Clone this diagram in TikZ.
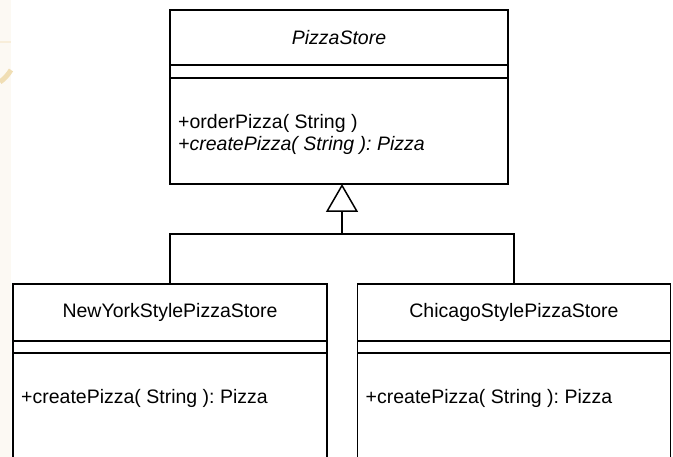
\documentclass[tikz,border=0pt]{standalone}
\usepackage{fontspec}
\setmainfont{Liberation Sans}
\usetikzlibrary{positioning}
\usetikzlibrary{arrows.meta}
\frenchspacing

\definecolor{paper}{RGB}{252,249,243}
\definecolor{paperring}{RGB}{240,222,180}

\tikzset{
	umlbox/.style={draw, line width=1.5pt, inner sep=0pt, outer sep=0pt},
	uml/.style={line width=1.5pt},
	optext/.style={anchor=west, inner sep=0pt, align=left},
	inherit/.style={uml, -{Triangle[open, length=28pt, width=32pt, line width=1.5pt]}},
}

\begin{document}
\begin{tikzpicture}[x=1pt, y=-1pt, font=\fontsize{19.5}{22}\selectfont]

	% ------------------------------------------------
	% Fix the page to the size of the reference
	\useasboundingbox (0,0) rectangle (673,457);

	% ------------------------------------------------
	% Background strip on the left
	\fill[paper] (0,0) rectangle (11,457);
	\draw[paperring, line width=5pt] (0,82) .. controls (4,79) and (8,75) .. (11,70);
	\draw[paperring!50, line width=2pt] (0,42) -- (11,42);

	% ------------------------------------------------
	% Abstract creator
	\node[umlbox, minimum width=338pt, minimum height=55pt] (PSName) at (339,37.5) {\itshape PizzaStore};
	\node[umlbox, minimum width=338pt, minimum height=13pt, below=0pt of PSName] (PSAttr) {};
	\node[umlbox, minimum width=338pt, minimum height=106pt, below=0pt of PSAttr] (PSOps) {};
	\node[optext] (PSOpsText) at ([xshift=8pt, yshift=-3pt]PSOps.west)
		{+orderPizza( String )\\{\itshape +createPizza( String ): Pizza}};

	% ----------------
	% Concrete creators
	\node[umlbox, minimum width=314pt, minimum height=57pt] (NYName) at (170,312.5) {NewYorkStylePizzaStore};
	\node[umlbox, minimum width=314pt, minimum height=12pt, below=0pt of NYName] (NYAttr) {};
	\node[umlbox, minimum width=314pt, minimum height=117pt, below=0pt of NYAttr] (NYOps) {};
	\node[optext] (NYOpsText) at ([xshift=8pt, yshift=13.5pt]NYOps.west) {+createPizza( String ): Pizza};

	\node[umlbox, minimum width=313pt, minimum height=57pt] (ChName) at (514,312.5) {ChicagoStylePizzaStore};
	\node[umlbox, minimum width=313pt, minimum height=12pt, below=0pt of ChName] (ChAttr) {};
	\node[umlbox, minimum width=313pt, minimum height=117pt, below=0pt of ChAttr] (ChOps) {};
	\node[optext] (ChOpsText) at ([xshift=8pt, yshift=13.5pt]ChOps.west) {+createPizza( String ): Pizza};

	%%%%%%%%%%%%%%%%%%%%%%%%%%%%%%%%%%%%%%%%%
	% Inheritance
	\coordinate (Join) at (342,234);

	\draw[uml] (NYName.north) |- (ChName.north |- Join) -- (ChName.north);
	\draw[inherit] (Join) -- (Join |- PSOps.south);

\end{tikzpicture}
\end{document}
